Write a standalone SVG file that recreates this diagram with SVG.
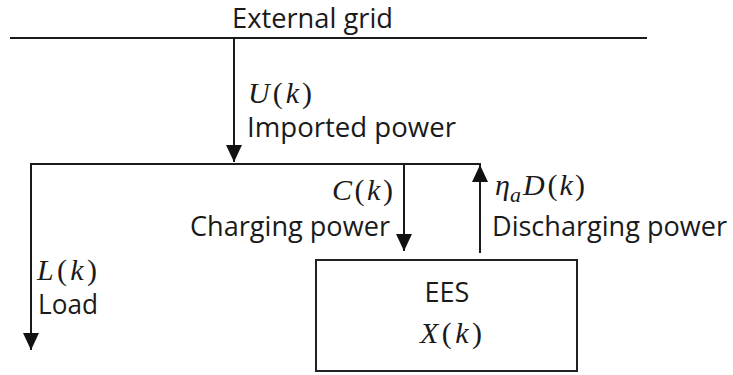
<svg xmlns="http://www.w3.org/2000/svg" width="733" height="375" viewBox="0 0 733 375">
<style>
.t{font-family:"Open Sans","Noto Sans","Liberation Sans",sans-serif;font-size:27px;fill:#1a1a1a}
.m{font-family:"Liberation Serif","DejaVu Serif",serif;font-size:30px;fill:#1a1a1a}
.i{font-style:italic}
.ln{stroke:#1a1a1a;stroke-width:2;fill:none}
</style>
<defs>
<marker id="ah" markerUnits="userSpaceOnUse" markerWidth="18" markerHeight="18" viewBox="0 0 18 18" refX="17" refY="9" orient="auto">
<path d="M0,1 L17,9 L0,17 Z" fill="#111"/>
</marker>
</defs>
<g id="external-grid">
<line class="ln" x1="10" y1="38" x2="647" y2="38"/>
<text class="t" x="232" y="28" textLength="161" lengthAdjust="spacingAndGlyphs">External grid</text>
</g>
<g id="bus">
<line class="ln" x1="30" y1="164" x2="481" y2="164"/>
</g>
<g id="load-label">
<text class="m" x="37" y="280" textLength="60" lengthAdjust="spacing"><tspan class="i">L</tspan>(<tspan class="i">k</tspan>)</text>
<text class="t" x="38" y="314" textLength="60" lengthAdjust="spacingAndGlyphs">Load</text>
</g>
<g id="ees">
<rect x="316" y="260" width="261" height="111" fill="none" stroke="#222" stroke-width="2"/>
<text class="t" x="447" y="302" text-anchor="middle">EES</text>
<text class="m" x="420" y="343" textLength="62" lengthAdjust="spacing"><tspan class="i">X</tspan>(<tspan class="i">k</tspan>)</text>
</g>
<g id="connectors">
<line class="ln" x1="234" y1="38" x2="234" y2="162" marker-end="url(#ah)"/>
<line class="ln" x1="31" y1="164" x2="31" y2="350" marker-end="url(#ah)"/>
<line class="ln" x1="404" y1="164" x2="404" y2="251" marker-end="url(#ah)"/>
<line class="ln" x1="480" y1="253" x2="480" y2="165" marker-end="url(#ah)"/>
</g>
<g id="labels">
<text class="m" x="248" y="103" textLength="64" lengthAdjust="spacing"><tspan class="i">U</tspan>(<tspan class="i">k</tspan>)</text>
<text class="t" x="247" y="137" textLength="209" lengthAdjust="spacingAndGlyphs">Imported power</text>
<text class="m" x="332" y="200" textLength="61" lengthAdjust="spacing"><tspan class="i">C</tspan>(<tspan class="i">k</tspan>)</text>
<text class="t" x="190" y="236" textLength="200" lengthAdjust="spacingAndGlyphs">Charging power</text>
<text class="m" x="495" y="195"><tspan class="i">η</tspan><tspan class="i" font-size="22" dy="7">a</tspan><tspan class="i" dy="-7" dx="2">D</tspan><tspan dx="3">(</tspan><tspan class="i" dx="2">k</tspan><tspan dx="2">)</tspan></text>
<text class="t" x="492" y="236" textLength="235" lengthAdjust="spacingAndGlyphs">Discharging power</text>
</g>
</svg>
